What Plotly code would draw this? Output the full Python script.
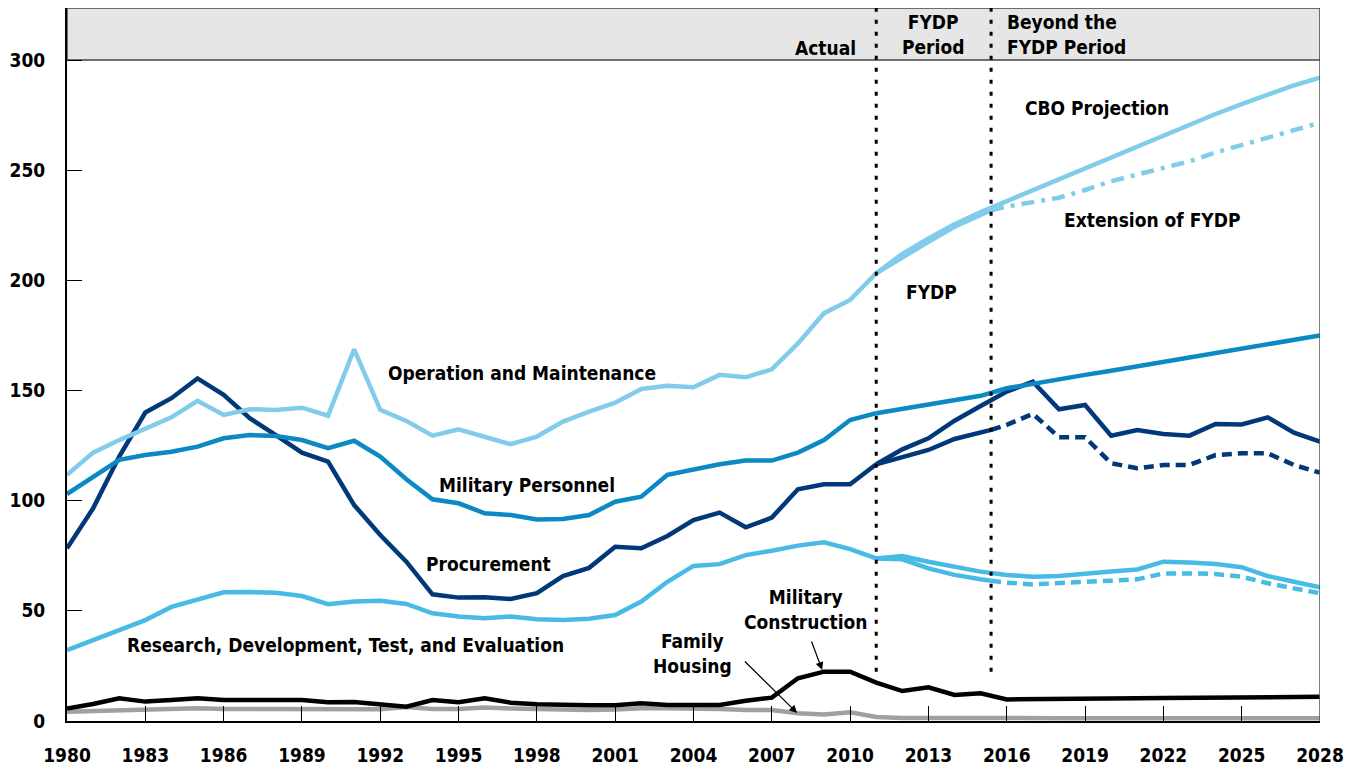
import plotly.graph_objects as go

# years
years_actual = list(range(1980, 2012))
years_all = list(range(1980, 2029))
years_cbo = list(range(2011, 2029))
years_fydp = [2011, 2012, 2013, 2014, 2015, 2015.4]
years_ext = [2015.4] + list(range(2016, 2029))

# Operation and Maintenance
om_actual = [111.7, 121.8, 127.5, 132.8, 137.8, 145.3, 138.9, 141.5, 141.2, 142.2,
             138.6, 168.7, 141.2, 136.2, 129.5, 132.4, 129.1, 125.6, 129.1, 135.9,
             140.4, 144.5, 150.7, 152.1, 151.5, 157.1, 156.0, 159.6, 171.4, 185.1,
             191.1, 203.2]
om_cbo = [203.2, 212.0, 219.0, 225.5, 231.0, 236.0, 241.0, 246.0, 251.0, 256.0,
          261.0, 266.0, 271.0, 275.5, 280.0, 284.5, 288.5, 292.0]
om_fydp = [203.2, 210.5, 217.5, 224.3, 229.5, 231.8]
om_ext = [231.8, 233.5, 235.5, 237.5, 241.0, 245.0, 248.0, 251.0, 254.0, 258.0,
          261.5, 264.5, 268.0, 271.5]

# Military Personnel
mp_actual = [103.0, 110.6, 118.5, 120.7, 122.2, 124.5, 128.3, 129.8, 129.3, 127.5,
             123.8, 127.2, 120.0, 109.7, 100.6, 98.8, 94.3, 93.5, 91.5, 91.7,
             93.5, 99.5, 101.8, 111.7, 114.2, 116.5, 118.2, 118.2, 121.8, 127.5,
             136.6, 139.7]
mp_cbo = [139.7, 141.6, 143.5, 145.6, 147.6, 151.0, 153.2, 155.2, 157.1, 159.0,
          161.0, 163.0, 165.0, 166.9, 168.8, 170.8, 172.9, 175.0]

# Procurement
proc_actual = [78.4, 96.5, 120.0, 140.0, 146.5, 155.5, 148.0, 137.4, 129.8, 121.8,
               117.7, 98.0, 84.4, 72.3, 57.5, 56.0, 56.2, 55.4, 58.0, 65.8,
               69.5, 79.1, 78.4, 84.0, 91.2, 94.6, 87.9, 92.3, 105.2, 107.4,
               107.4, 116.5]
proc_cbo = [116.5, 123.3, 128.3, 136.3, 143.0, 149.5, 154.0, 141.5, 143.4, 129.5,
            132.1, 130.3, 129.5, 134.8, 134.6, 137.8, 130.9, 126.8]
proc_fydp = [116.5, 120.0, 123.0, 128.0, 130.9, 132.1]
proc_ext = [132.1, 134.4, 139.4, 128.8, 128.8, 117.0, 114.7, 116.2, 116.2, 120.7,
            121.5, 121.5, 116.2, 112.7]

# Research, Development, Test, and Evaluation
rdte_actual = [32.2, 36.8, 41.6, 45.8, 51.8, 55.2, 58.4, 58.5, 58.2, 56.7,
               53.0, 54.2, 54.6, 53.1, 48.9, 47.4, 46.6, 47.4, 46.2, 45.8,
               46.4, 48.1, 54.2, 63.2, 70.4, 71.2, 75.3, 77.3, 79.6, 81.1,
               78.0, 73.8]
rdte_cbo = [73.8, 74.9, 72.3, 69.8, 67.8, 66.3, 65.5, 65.8, 67.0, 67.8,
            68.8, 72.3, 71.9, 71.3, 69.8, 65.8, 63.2, 60.7]
rdte_fydp = [73.8, 73.4, 69.3, 66.3, 64.3, 63.7]
rdte_ext = [63.7, 62.8, 62.0, 62.4, 63.2, 63.7, 64.3, 67.0, 67.0, 66.7,
            65.5, 62.5, 60.2, 58.0]

# Military Construction and Family Housing, 1980-2028
milcon = [5.7, 7.7, 10.3, 8.8, 9.5, 10.3, 9.5, 9.3, 9.5, 9.5,
          8.5, 8.6, 7.7, 6.5, 9.5, 8.5, 10.3, 8.3, 7.6, 7.1,
          7.1, 7.1, 8.0, 7.3, 7.3, 7.3, 9.2, 10.6, 19.4, 22.4,
          22.4, 17.4, 13.6, 15.3, 11.8, 12.6, 9.8, 9.8, 9.9, 10.1,
          10.2, 10.3, 10.4, 10.5, 10.6, 10.7, 10.8, 10.9, 11.0]
housing = [4.2, 4.6, 5.0, 5.2, 5.4, 5.8, 5.5, 5.5, 5.5, 5.5,
           5.0, 5.0, 5.3, 6.3, 5.5, 5.5, 6.1, 5.7, 5.3, 5.1,
           5.0, 5.2, 5.8, 5.8, 5.8, 5.5, 5.0, 5.0, 3.5, 2.9,
           4.0, 1.8, 1.4, 1.3, 1.3, 1.3, 1.3, 1.3, 1.3, 1.3,
           1.3, 1.3, 1.3, 1.3, 1.3, 1.3, 1.3, 1.3, 1.3]

x_ticks = list(range(1980, 2029, 3))
y_ticks = [0, 50, 100, 150, 200, 250, 300]
period_breaks = [2011, 2015.4]

# colours
OM = "#80CCEA"
MP = "#0A89C2"
PROC = "#00387A"
RDTE = "#47BBE3"
BLACK = "#000000"
GRAY = "#A0A0A0"
FONT = "DejaVu Sans Condensed, Liberation Sans Narrow, Arial Narrow, sans-serif"
LW = 4.5

fig = go.Figure()


def line(x, y, color, dash="solid"):
    fig.add_trace(go.Scatter(
        x=x, y=y, mode="lines", showlegend=False,
        line=dict(color=color, width=LW, dash=dash),
        hoverinfo="x+y",
    ))


line(years_all, housing, GRAY)
line(years_all, milcon, BLACK)

line(years_actual, rdte_actual, RDTE)
line(years_cbo, rdte_cbo, RDTE)
line(years_fydp, rdte_fydp, RDTE)
line(years_ext, rdte_ext, RDTE, "10px,6px")

line(years_actual, proc_actual, PROC)
line(years_cbo, proc_cbo, PROC)
line(years_fydp, proc_fydp, PROC)
line(years_ext, proc_ext, PROC, "10px,6px")

line(years_actual, mp_actual, MP)
line(years_cbo, mp_cbo, MP)

line(years_actual, om_actual, OM)
line(years_cbo, om_cbo, OM)
line(years_fydp, om_fydp, OM)
line(years_ext, om_ext, OM, "13px,7px,4px,7px")

# header band and frame
TOP = 323.6
fig.add_shape(type="rect", x0=1980, x1=2028, y0=300, y1=TOP, xref="x", yref="y",
              fillcolor="#E6E6E6", line=dict(color="#444444", width=1.5), layer="below")
fig.add_shape(type="line", x0=2028, x1=2028, y0=0, y1=300, xref="x", yref="y",
              line=dict(color="#555555", width=1.5))
for xb in period_breaks:
    fig.add_shape(type="line", x0=xb, x1=xb, y0=22.4, y1=TOP, xref="x", yref="y",
                  line=dict(color=BLACK, width=3, dash="4px,8px"))

labels = [
    ("Operation and Maintenance", 1997.42, 158.0, "center"),
    ("Military Personnel", 1997.62, 107.1, "center"),
    ("Procurement", 1996.16, 71.3, "center"),
    ("Research, Development, Test, and Evaluation", 1990.66, 34.5, "center"),
    ("Family<br>Housing", 2003.95, 30.6, "center"),
    ("Military<br>Construction", 2008.3, 50.6, "center"),
    ("CBO Projection", 2019.47, 278.3, "center"),
    ("Extension of FYDP", 2021.57, 227.4, "center"),
    ("FYDP", 2013.13, 194.7, "center"),
    ("Actual", 2010.3, 305.5, "right"),
    ("FYDP<br>Period", 2013.17, 311.4, "center"),
    ("Beyond the<br>FYDP Period", 2015.92, 311.4, "left"),
]
for text, x, y, anchor in labels:
    fig.add_annotation(
        text=text, x=x, y=y, xref="x", yref="y", showarrow=False,
        xanchor=anchor, yanchor="middle", align="center" if anchor == "center" else anchor,
        font=dict(family=FONT, size=19, color=BLACK, weight="bold"),
    )

# pointer arrows
for hx, hy, tx, ty in [(2008.93, 23.2, 2008.5, 36.8), (2007.97, 3.6, 2005.91, 27.7)]:
    fig.add_annotation(
        x=hx, y=hy, ax=tx, ay=ty, xref="x", yref="y", axref="x", ayref="y",
        text="", showarrow=True, arrowhead=2, arrowsize=1.3, arrowwidth=1.2,
        arrowcolor=BLACK,
    )

tick_font = dict(family=FONT, size=19, color=BLACK, weight="bold")
# page body has an 8px margin, so the figure is sized to fit the window
fig.update_layout(
    width=1347, height=759,
    paper_bgcolor="white", plot_bgcolor="white",
    margin=dict(l=59, r=35, t=0, b=46),
    xaxis=dict(
        range=[1980, 2028], tickvals=x_ticks, ticks="inside", ticklen=15,
        tickwidth=1.2, tickcolor=BLACK, showline=True, linecolor=BLACK, linewidth=2,
        showgrid=False, zeroline=False, tickfont=tick_font, ticklabelstandoff=16,
        automargin=False,
    ),
    yaxis=dict(
        range=[0, TOP], tickvals=y_ticks, ticks="inside", ticklen=15,
        tickwidth=1.2, tickcolor=BLACK, showline=True, linecolor=BLACK, linewidth=2,
        showgrid=False, zeroline=False, tickfont=tick_font, ticklabelstandoff=16,
        automargin=False,
    ),
)

fig.write_html("out.html")
